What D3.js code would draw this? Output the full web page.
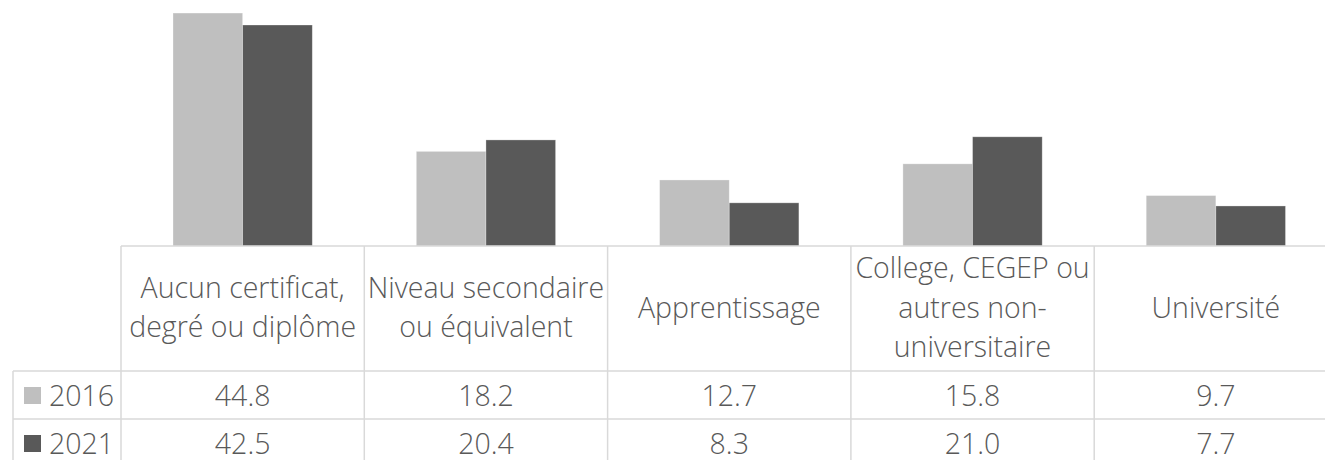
<!DOCTYPE html>
<html>
<head>
<meta charset="utf-8">
<script src="https://cdn.jsdelivr.net/npm/d3@7"></script>
<style>
  body { margin: 0; background: #fff; }
  text { font-family: 'Open Sans', sans-serif; font-weight: 300; fill: #595959; }
</style>
</head>
<body>
<script>
// data
const categories = [
  ['Aucun certificat,', 'degré ou diplôme'],
  ['Niveau secondaire', 'ou équivalent'],
  ['Apprentissage'],
  ['College, CEGEP ou', 'autres non-', 'universitaire'],
  ['Université']
];
const years = ['2016', '2021'];
const values2016 = [44.8, 18.2, 12.7, 15.8, 9.7];
const values2021 = [42.5, 20.4, 8.3, 21.0, 7.7];
const colors = ['#bfbfbf', '#595959'];

const width = 1325;
const height = 460;
const margin = ({left: 121, tableLeft: 13, base: 246, row1: 371, row2: 419});
const plotRight = 1337.5;
const grid = '#d9d9d9';
const fontSize = 28.5;

const series = [values2016, values2021];
const catIdx = d3.range(categories.length);

const svg = d3.select('body')
  .append('svg')
  .attr('width', width)
  .attr('height', height);

// scales
const xScale = d3.scaleBand()
  .domain(catIdx)
  .range([margin.left, plotRight]);

const xInner = d3.scaleBand()
  .domain(years)
  .range([52, xScale.bandwidth() - 52]);

const yScale = d3.scaleLinear()
  .domain([0, 50])
  .range([margin.base, margin.base - 260]);

// bars
const groups = svg.append('g')
  .selectAll('g')
  .data(catIdx)
  .join('g')
  .attr('transform', i => `translate(${xScale(i)},0)`);

groups.selectAll('rect')
  .data(i => years.map((y, s) => ({year: y, s: s, v: series[s][i]})))
  .join('rect')
  .attr('x', d => xInner(d.year))
  .attr('y', d => yScale(d.v))
  .attr('width', xInner.bandwidth())
  .attr('height', d => yScale(0) - yScale(d.v))
  .attr('fill', d => colors[d.s])
  .attr('stroke', '#ffffff')
  .attr('stroke-opacity', 0.4)
  .attr('stroke-width', 0.75);

// data table grid
const lines = svg.append('g')
  .attr('stroke', grid)
  .attr('stroke-width', 1.5);

lines.append('line')
  .attr('x1', margin.left).attr('x2', width)
  .attr('y1', margin.base).attr('y2', margin.base);

[margin.row1, margin.row2].forEach(y => {
  lines.append('line')
    .attr('x1', margin.tableLeft).attr('x2', width)
    .attr('y1', y).attr('y2', y);
});

lines.append('line')
  .attr('x1', margin.tableLeft).attr('x2', margin.tableLeft)
  .attr('y1', margin.row1).attr('y2', height);

lines.selectAll('.v')
  .data(catIdx)
  .join('line')
  .attr('x1', i => xScale(i)).attr('x2', i => xScale(i))
  .attr('y1', margin.base).attr('y2', height);

// category labels
const lineH = 39.5;
svg.append('g')
  .selectAll('text')
  .data(catIdx)
  .join('text')
  .attr('text-anchor', 'middle')
  .attr('font-size', fontSize)
  .each(function(i) {
    const lbl = categories[i];
    const y0 = 317.5 - (lbl.length - 1) * lineH / 2;
    d3.select(this).selectAll('tspan')
      .data(lbl)
      .join('tspan')
      .attr('x', xScale(i) + xScale.bandwidth() / 2)
      .attr('y', (t, k) => y0 + k * lineH)
      .text(t => t);
  });

// value rows
const rowBase = [405.5, 453.5];
series.forEach((vals, s) => {
  svg.append('g')
    .selectAll('text')
    .data(vals)
    .join('text')
    .attr('x', (v, i) => xScale(i) + xScale.bandwidth() / 2)
    .attr('y', rowBase[s])
    .attr('text-anchor', 'middle')
    .attr('font-size', fontSize)
    .text(v => v.toFixed(1));

  // legend key
  svg.append('rect')
    .attr('x', 24)
    .attr('y', rowBase[s] - 18.5)
    .attr('width', 17)
    .attr('height', 17)
    .attr('fill', colors[s]);

  svg.append('text')
    .attr('x', 49)
    .attr('y', rowBase[s])
    .attr('font-size', fontSize)
    .text(years[s]);
});
</script>
</body>
</html>
